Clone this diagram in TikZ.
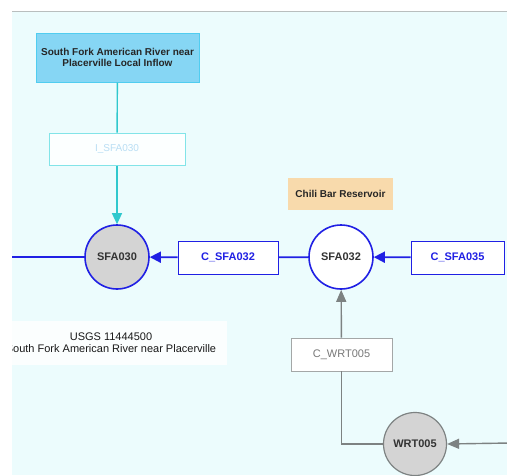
\documentclass[tikz,border=0pt]{standalone}
\usepackage{fontspec}
\setmainfont{Liberation Sans}
\usetikzlibrary{arrows.meta}
\definecolor{bgc}{RGB}{236,252,253}
\definecolor{frameline}{RGB}{185,190,190}
\definecolor{flowblue}{RGB}{32,32,228}
\definecolor{inflowfill}{RGB}{134,214,244}
\definecolor{inflowline}{RGB}{80,205,240}
\definecolor{tealline}{RGB}{48,200,205}
\definecolor{tealbox}{RGB}{130,228,232}
\definecolor{faintlabel}{RGB}{185,222,244}
\definecolor{resfill}{RGB}{248,218,172}
\definecolor{greyline}{RGB}{125,130,130}
\definecolor{nodegrey}{RGB}{212,212,212}
\definecolor{greytext}{RGB}{120,120,120}
\begin{document}
\begin{tikzpicture}[x=1pt,y=-1pt,
  lbl/.style={font=\fontsize{11}{13}\selectfont\bfseries},
  inflowbox/.style={draw=inflowline,fill=inflowfill,line width=1pt,minimum width=163pt,minimum height=49pt,inner sep=0pt,align=center,font=\fontsize{10}{11.5}\selectfont\bfseries,text=black!85},
  inbox/.style={draw=tealbox,fill=white!85!bgc,line width=1pt,minimum width=136pt,minimum height=32pt,inner sep=0pt,text=faintlabel,font=\fontsize{10}{12}\selectfont},
  chanbox/.style={draw=flowblue,fill=white,line width=0.9pt,minimum height=33pt,inner sep=0pt,text=flowblue,lbl},
  greybox/.style={draw=greyline!70,fill=white,line width=0.9pt,minimum height=33pt,inner sep=0pt,text=greytext,font=\fontsize{11}{13}\selectfont},
  junction/.style={circle,draw=flowblue,line width=1.6pt,minimum size=64pt,inner sep=0pt,lbl,text=black!80},
  greyjunction/.style={circle,draw=greyline,fill=nodegrey,line width=1.2pt,minimum size=63pt,inner sep=0pt,lbl,text=black!80},
  resbox/.style={fill=resfill,minimum width=105pt,minimum height=32pt,inner sep=0pt,font=\fontsize{10}{12}\selectfont\bfseries,text=black!85},
  gauge/.style={fill=white,fill opacity=0.8,text opacity=1,minimum width=232pt,minimum height=44pt,inner sep=0pt,align=center,font=\fontsize{11}{12}\selectfont,text=black!90},
  blueflow/.style={draw=flowblue,line width=1.8pt},
  bluearrow/.style={blueflow,-{Triangle[length=11pt,width=11pt]}},
  tealarrow/.style={draw=tealline,line width=1.4pt,-{Triangle[length=11pt,width=10pt]}},
  greyflow/.style={draw=greyline,line width=1.4pt},
  greyarrow/.style={greyflow,-{Triangle[length=12pt,width=10pt]}}
]
% page and frame
\useasboundingbox (0,0) rectangle (507,475);
\fill[white] (0,0) rectangle (507,475);
\fill[bgc] (12,12) rectangle (507,475);
\draw[frameline,line width=1pt] (12,11.5) -- (507,11.5);
\clip (12,12) rectangle (507,475);

% nodes
\node[inflowbox] (inflow) at (117.5,57.5) {South Fork American River near\\Placerville Local Inflow};
\node[inbox] (isfa030) at (117,149) {I\_SFA030};
\node[junction,fill=nodegrey] (sfa030) at (117,257) {SFA030};
\node[chanbox,minimum width=100pt] (csfa032) at (228,257.5) {C\_SFA032};
\node[junction,fill=white] (sfa032) at (341,257) {SFA032};
\node[chanbox,minimum width=93pt] (csfa035) at (457.5,257.5) {C\_SFA035};
\node[resbox] (chili) at (340.5,194) {Chili Bar Reservoir};
\node[greybox,minimum width=101pt] (cwrt005) at (341.5,354.5) {C\_WRT005};
\node[greyjunction] (wrt005) at (415,444) {WRT005};
\node[gauge] (usgs) at (111,343) {USGS 11444500\\South Fork American River near Placerville};

\coordinate (westout) at (0,257);
\coordinate (eastin) at (510,443);

% connectors
\draw[draw=tealline,line width=1.4pt] (inflow) -- (isfa030);
\draw[tealarrow] (isfa030) -- (sfa030);
\draw[blueflow] (sfa030) -- (westout);
\draw[bluearrow] (csfa032) -- (sfa030);
\draw[blueflow] (sfa032) -- (csfa032);
\draw[bluearrow] (csfa035) -- (sfa032);
\draw[greyarrow] (cwrt005) -- (sfa032);
\draw[greyflow] (wrt005.west) -| (cwrt005.south);
\draw[greyarrow] (eastin) -- (wrt005.east);
\end{tikzpicture}
\end{document}
